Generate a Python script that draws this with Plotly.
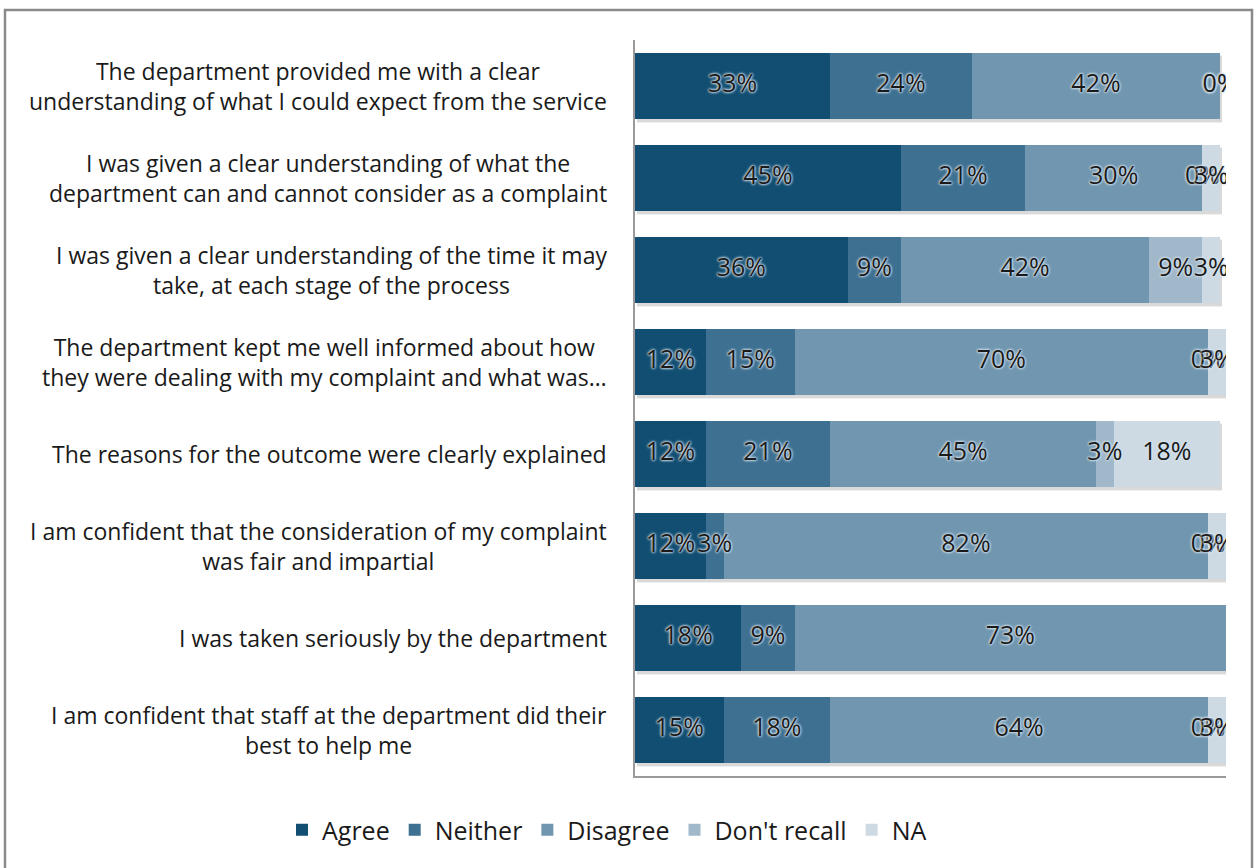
import plotly.graph_objects as go

categories = [
    "The department provided me with a clear<br>understanding of what I could expect from the service",
    "I was given a clear understanding of what the<br>department can and cannot consider as a complaint",
    "I was given a clear understanding of the time it may<br>take, at each stage of the process",
    "The department kept me well informed about how<br>they were dealing with my complaint and what was…",
    "The reasons for the outcome were clearly explained",
    "I am confident that the consideration of my complaint<br>was fair and impartial",
    "I was taken seriously by the department",
    "I am confident that staff at the department did their<br>best to help me",
]

series_names = ["Agree", "Neither", "Disagree", "Don't recall", "NA"]
agree = [33, 45, 36, 12, 12, 12, 18, 15]
neither = [24, 21, 9, 15, 21, 3, 9, 18]
disagree = [42, 30, 42, 70, 45, 82, 73, 64]
dont_recall = [0, 0, 9, 0, 3, 0, None, 0]
na = [0, 3, 3, 3, 18, 3, None, 3]

colors = ["#124e72", "#3e7092", "#7096b0", "#a0b8ca", "#cddae3"]
FONT = "Open Sans"
FS = 23
FS_DATA = 25
FS_LEG = 25

series = [agree, neither, disagree, dont_recall, na]
ycats = list(range(len(categories)))
ncat = len(categories)

W, H = 1254, 868
L, R, T, B = 635, 1226, 40, 776
pw, ph = R - L, B - T
def px(x):
    return (x - L) / pw
def py(y):
    return (B - y) / ph

fig = go.Figure()

# soft drop shadow of each bar (drawn on the base y axis, shifted down)
totals = [sum(v for v in (s[i] for s in series) if v is not None) for i in ycats]
shift = 3.0 / (ph / ncat)
for alpha, extra in [(0.08, 2.0), (0.13, 0.0)]:
    fig.add_trace(go.Bar(
        y=ycats, x=totals, base=[0.4] * ncat, orientation="h", yaxis="y",
        marker=dict(color=f"rgba(60,60,60,{alpha})", line=dict(width=0)),
        width=0.71 + extra / (ph / ncat), showlegend=False, hoverinfo="skip",
    ))

for name, vals, col in zip(series_names, series, colors):
    fig.add_trace(go.Bar(
        y=ycats, x=[v if v is not None else 0 for v in vals], name=name,
        orientation="h", yaxis="y2", width=0.71,
        marker=dict(color=col, line=dict(width=0)),
        hoverinfo="x+name",
    ))

# data labels at segment centres
lx, ly, lt = [], [], []
for i in ycats:
    start = 0
    for vals in series:
        v = vals[i]
        if v is None:
            continue
        lx.append(start + v / 2)
        ly.append(i)
        lt.append(f"{v}%")
        start += v
fig.add_trace(go.Scatter(
    x=lx, y=ly, text=lt, mode="text", showlegend=False, hoverinfo="skip",
    yaxis="y2", textposition="middle center",
    textfont=dict(family=FONT, size=FS_DATA, color="#1a1a1a",
                  shadow="0px 0px 3px #d6e4ee, 0px 0px 3px #d6e4ee, 0px 0px 2px #d6e4ee"),
))

annotations = []
for i, c in enumerate(categories):
    annotations.append(dict(
        x=px(609), xref="paper", y=i, yref="y2", text=c, showarrow=False,
        xanchor="right", yanchor="middle", align="center",
        font=dict(family=FONT, size=FS, color="#1a1a1a"),
    ))

shapes = [dict(type="rect", xref="paper", yref="paper",
               x0=px(5), x1=px(1252), y0=py(885), y1=py(10),
               line=dict(color="#8a8a8a", width=2.5), fillcolor="rgba(0,0,0,0)", layer="below")]

fig.update_layout(
    width=W, height=H,
    margin=dict(l=L, r=W - R, t=T, b=H - B, pad=0),
    barmode="stack",
    plot_bgcolor="white", paper_bgcolor="white",
    font=dict(family=FONT, size=FS, color="#1a1a1a"),
    xaxis=dict(range=[0, 100], showgrid=False, showticklabels=False, zeroline=False,
               showline=True, linecolor="#9a9a9a", linewidth=1.5, ticks="", fixedrange=True),
    yaxis=dict(range=[ncat - 0.5 - shift, -0.5 - shift], showgrid=False, showticklabels=False,
               zeroline=False, showline=False, ticks="", fixedrange=True),
    yaxis2=dict(range=[ncat - 0.5, -0.5], overlaying="y", side="left", showgrid=False,
                showticklabels=False, zeroline=False, showline=True, linecolor="#9a9a9a",
                linewidth=1.5, ticks="", fixedrange=True),
    legend=dict(orientation="h", x=px(282), xanchor="left",
                y=py(830), yanchor="middle",
                font=dict(family=FONT, size=FS_LEG, color="#1a1a1a"), itemwidth=30,
                traceorder="normal", itemclick=False),
    annotations=annotations,
    shapes=shapes,
    showlegend=True,
)

fig.write_html("out.html", config={"displayModeBar": False},
               post_script="document.body.style.margin='0px';document.body.style.padding='0px';")
